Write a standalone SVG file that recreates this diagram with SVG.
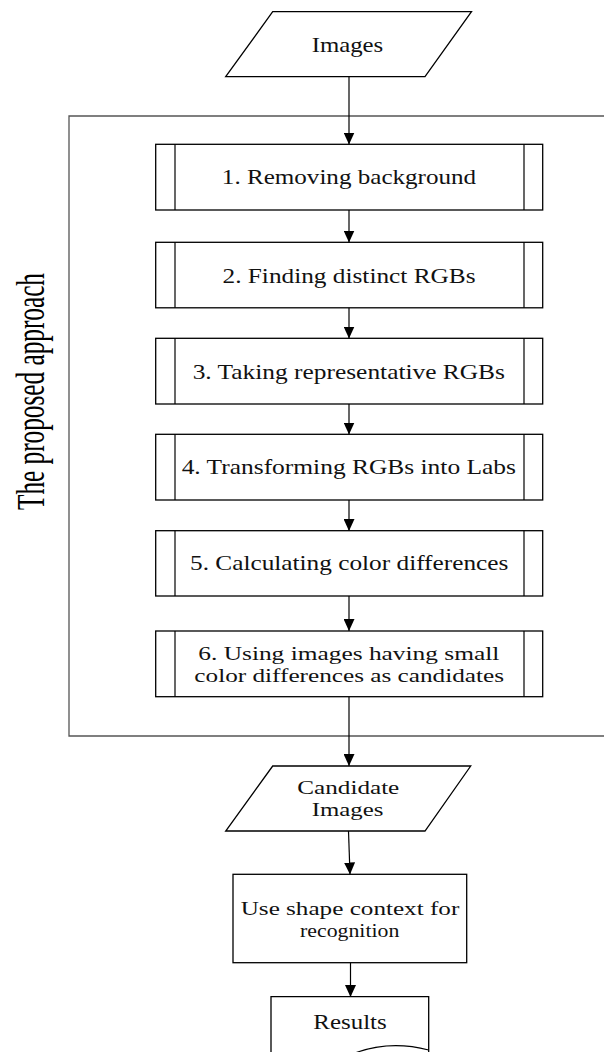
<svg xmlns="http://www.w3.org/2000/svg" width="604" height="1052" viewBox="0 0 604 1052">
<style>
.shape{fill:#fff;stroke:#000;stroke-width:1.3}
.frame{fill:none;stroke:#555;stroke-width:1.3}
.sub{fill:none;stroke:#000;stroke-width:1.2}
.conn{fill:none;stroke:#000;stroke-width:1.2}
.t{font-family:"Liberation Serif","Times New Roman",serif;font-size:21px;fill:#111;text-anchor:middle}
.t2{font-family:"Liberation Serif","Times New Roman",serif;font-size:19.5px;fill:#111;text-anchor:middle}
.v{font-family:"Liberation Serif","Times New Roman",serif;font-size:40px;fill:#000;text-anchor:middle}
</style>
<defs>
<marker id="arrow" markerUnits="userSpaceOnUse" markerWidth="12" markerHeight="11" refX="12" refY="5.5" orient="auto">
<path d="M0,0 L12,5.5 L0,11 z" fill="#000"/>
</marker>
</defs>
<rect width="604" height="1052" fill="#fff"/>

<g id="approach-frame">
<path class="frame" d="M610 116 H69 V736 H610"/>
<text class="v" transform="translate(43.5,391.5) rotate(-90)" textLength="237" lengthAdjust="spacingAndGlyphs">The proposed approach</text>
</g>

<g id="connectors">
<line class="conn" x1="349" y1="77" x2="349" y2="144.5" marker-end="url(#arrow)"/>
<line class="conn" x1="349" y1="210" x2="349" y2="242.5" marker-end="url(#arrow)"/>
<line class="conn" x1="349" y1="307.5" x2="349" y2="338.5" marker-end="url(#arrow)"/>
<line class="conn" x1="349" y1="404" x2="349" y2="434.5" marker-end="url(#arrow)"/>
<line class="conn" x1="349" y1="500" x2="349" y2="531" marker-end="url(#arrow)"/>
<line class="conn" x1="349" y1="596" x2="349" y2="631" marker-end="url(#arrow)"/>
<line class="conn" x1="349" y1="697" x2="349" y2="766" marker-end="url(#arrow)"/>
<line class="conn" x1="348.5" y1="831" x2="350" y2="874.5" marker-end="url(#arrow)"/>
<line class="conn" x1="350.5" y1="963" x2="350.5" y2="997" marker-end="url(#arrow)"/>
</g>

<g id="images-input">
<polygon class="shape" points="272.7,11.7 471.5,11.7 425,76.7 225.7,76.7"/>
<text class="t" x="347.5" y="51.5" textLength="71.6" lengthAdjust="spacingAndGlyphs">Images</text>
</g>

<g id="step1">
<rect class="shape" x="155.7" y="144.3" width="387" height="65.7"/>
<line class="sub" x1="175" y1="144.3" x2="175" y2="210"/>
<line class="sub" x1="524" y1="144.3" x2="524" y2="210"/>
<text class="t" x="349" y="184.3" textLength="254.3" lengthAdjust="spacingAndGlyphs">1. Removing background</text>
</g>

<g id="step2">
<rect class="shape" x="155.7" y="242.3" width="387" height="65.5"/>
<line class="sub" x1="175" y1="242.3" x2="175" y2="307.8"/>
<line class="sub" x1="524" y1="242.3" x2="524" y2="307.8"/>
<text class="t" x="349" y="282.5" textLength="253" lengthAdjust="spacingAndGlyphs">2. Finding distinct RGBs</text>
</g>

<g id="step3">
<rect class="shape" x="155.7" y="338.3" width="387" height="65.7"/>
<line class="sub" x1="175" y1="338.3" x2="175" y2="404"/>
<line class="sub" x1="524" y1="338.3" x2="524" y2="404"/>
<text class="t" x="348.8" y="379.3" textLength="312.3" lengthAdjust="spacingAndGlyphs">3. Taking representative RGBs</text>
</g>

<g id="step4">
<rect class="shape" x="155.7" y="434.3" width="387" height="65.7"/>
<line class="sub" x1="175" y1="434.3" x2="175" y2="500"/>
<line class="sub" x1="524" y1="434.3" x2="524" y2="500"/>
<text class="t" x="348.8" y="474.3" textLength="334.3" lengthAdjust="spacingAndGlyphs">4. Transforming RGBs into Labs</text>
</g>

<g id="step5">
<rect class="shape" x="155.7" y="530.7" width="387" height="65.3"/>
<line class="sub" x1="175" y1="530.7" x2="175" y2="596"/>
<line class="sub" x1="524" y1="530.7" x2="524" y2="596"/>
<text class="t" x="349.2" y="570" textLength="318.3" lengthAdjust="spacingAndGlyphs">5. Calculating color differences</text>
</g>

<g id="step6">
<rect class="shape" x="155.7" y="631" width="387" height="65.7"/>
<line class="sub" x1="175" y1="631" x2="175" y2="696.7"/>
<line class="sub" x1="524" y1="631" x2="524" y2="696.7"/>
<text class="t2" x="348.8" y="659.5" textLength="301" lengthAdjust="spacingAndGlyphs">6. Using images having small</text>
<text class="t2" x="349.2" y="681.7" textLength="309.7" lengthAdjust="spacingAndGlyphs">color differences as candidates</text>
</g>

<g id="candidate-images">
<polygon class="shape" points="272.7,766 470.7,766 425,831 225.7,831"/>
<text class="t2" x="348.3" y="794" textLength="102" lengthAdjust="spacingAndGlyphs">Candidate</text>
<text class="t2" x="347.5" y="816.2" textLength="71.6" lengthAdjust="spacingAndGlyphs">Images</text>
</g>

<g id="shape-context">
<rect class="shape" x="233" y="874.3" width="233.7" height="88.4"/>
<text class="t2" x="350" y="914.5" textLength="218.6" lengthAdjust="spacingAndGlyphs">Use shape context for</text>
<text class="t2" x="349.7" y="936.7" textLength="99.3" lengthAdjust="spacingAndGlyphs">recognition</text>
</g>

<g id="results">
<path class="shape" d="M271 1060 V996.7 H428.7 V1060"/>
<path class="sub" d="M355 1053 Q390 1040 428.7 1050"/>
<text class="t" x="350" y="1028.7" textLength="73.4" lengthAdjust="spacingAndGlyphs">Results</text>
</g>
</svg>
